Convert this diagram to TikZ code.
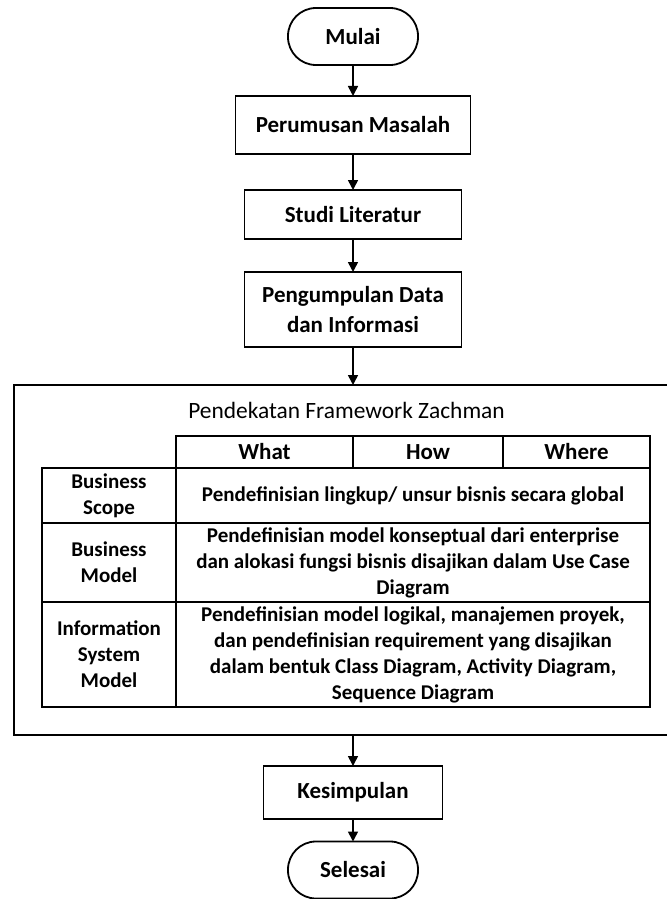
\documentclass[tikz,border=0pt]{standalone}
\usepackage{fontspec}
\setmainfont{Carlito}
\usetikzlibrary{arrows.meta}

\begin{document}
\begin{tikzpicture}[x=0.5pt,y=-0.5pt,line width=0.9pt]
\tikzstyle{every node}=[inner sep=0pt,outer sep=0pt,align=center]
\tikzstyle{terminal}=[draw,rounded corners=14pt,minimum width=65pt,minimum height=28.5pt,font=\fontsize{11.5}{15}\selectfont\bfseries]
\tikzstyle{proses}=[draw,font=\fontsize{11.5}{15}\selectfont\bfseries]
\tikzstyle{panah}=[line width=0.8pt,-{Triangle[width=5pt,length=5pt]}]
\tikzstyle{kepala}=[draw,line width=1.35pt,minimum height=16pt,font=\fontsize{11.5}{14}\selectfont\bfseries]
\tikzstyle{label}=[draw,line width=1.35pt,minimum width=67pt,font=\fontsize{10.5}{13}\selectfont\bfseries]
\tikzstyle{isi}=[draw,line width=1.35pt,minimum width=237pt,font=\fontsize{10.5}{13}\selectfont\bfseries]
\useasboundingbox (0,0) rectangle (667,899);

\node[terminal] (mulai) at (353,36.5) {Mulai};
\node[proses,minimum width=117.5pt,minimum height=29pt] (rumusan) at (353,125) {Perumusan Masalah};
\node[proses,minimum width=108.5pt,minimum height=24.5pt] (studi) at (353,214.5) {Studi Literatur};
\node[proses,minimum width=108.5pt,minimum height=37.5pt] (kumpul) at (353,309.5) {Pengumpulan Data\\dan Informasi};

\node[draw,line width=1.35pt,minimum width=333pt,minimum height=175pt] (zachman) at (347,560) {};
\node[font=\fontsize{11.7}{14}\selectfont] (judul) at (346.5,410) {Pendekatan Framework Zachman};

\node[kepala,minimum width=88.5pt] (what) at (264.5,452) {What};
\node[kepala,minimum width=75pt] (how) at (428,452) {How};
\node[kepala,minimum width=73.5pt] (where) at (576.5,452) {Where};

\node[label,minimum height=27.5pt] (scope) at (109,495.5) {Business\\Scope};
\node[isi,minimum height=27.5pt] (isiscope) at (413,495.5) {Pendefinisian lingkup/ unsur bisnis secara global};
\node[label,minimum height=39.5pt] (model) at (109,562.5) {Business\\Model};
\node[isi,minimum height=39.5pt] (isimodel) at (413,562.5) {Pendefinisian model konseptual dari enterprise\\dan alokasi fungsi bisnis disajikan dalam Use Case\\Diagram};
\node[label,minimum height=52.5pt] (sistem) at (109,654.5) {Information\\System\\Model};
\node[isi,minimum height=52.5pt] (isisistem) at (413,654.5) {Pendefinisian model logikal, manajemen proyek,\\dan pendefinisian requirement yang disajikan\\dalam bentuk Class Diagram, Activity Diagram,\\Sequence Diagram};

\node[proses,minimum width=89.5pt,minimum height=26.5pt] (simpul) at (353,792.5) {Kesimpulan};
\node[terminal] (selesai) at (353,870) {Selesai};

\draw[panah] (mulai) -- (rumusan);
\draw[panah] (rumusan) -- (studi);
\draw[panah] (studi) -- (kumpul);
\draw[panah] (kumpul.south) -- (kumpul.south |- zachman.north);
\draw[panah] (simpul.north |- zachman.south) -- (simpul.north);
\draw[panah] (simpul) -- (selesai);
\end{tikzpicture}
\end{document}
